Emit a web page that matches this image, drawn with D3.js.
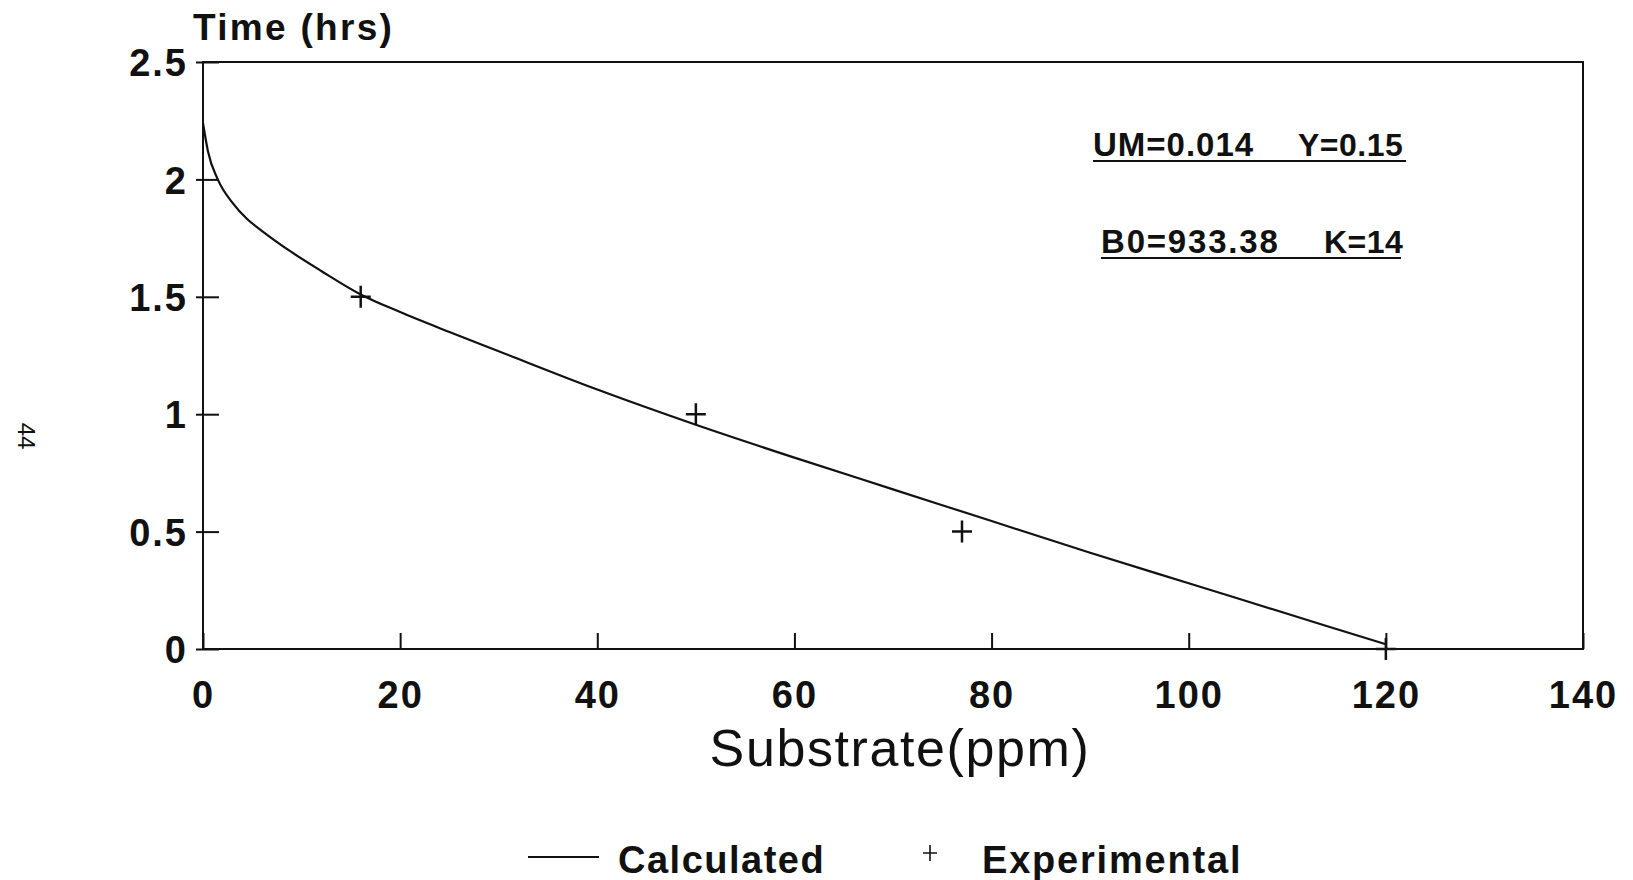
<!DOCTYPE html>
<html>
<head>
<meta charset="utf-8">
<script src="https://cdn.jsdelivr.net/npm/d3@7"></script>
<style>
  body { margin: 0; background: #fff; }
  svg { display: block; font-family: "Liberation Sans", Arial, sans-serif; }
  .axis text { font-size: 38px; font-weight: bold; letter-spacing: 2px; fill: #111; }
  .axis line { stroke: #111; stroke-width: 2; }
</style>
</head>
<body>
<svg id="chart" width="1633" height="880"></svg>
<script>
// plot area in page pixels
var width = 1633;
var height = 880;
var margin = {top: 62, right: 50, bottom: 231, left: 203};
var w = width - margin.left - margin.right;
var h = height - margin.top - margin.bottom;

// calculated curve (substrate ppm vs time hrs)
var calcX = [0, 0.5, 1.5, 3, 4.5, 6, 9, 12, 16, 20, 25, 30, 40, 50, 60, 70, 80, 90, 100, 110, 120];
var calcY = [2.24, 2.12, 2.0, 1.9, 1.83, 1.78, 1.69, 1.61, 1.51, 1.435, 1.35, 1.268, 1.105, 0.955, 0.815, 0.68, 0.545, 0.41, 0.28, 0.15, 0.02];

// experimental points
var expX = [16, 50, 77, 120];
var expY = [1.5, 1.0, 0.5, 0];

var xTicks = [0, 20, 40, 60, 80, 100, 120, 140];
var yTicks = [0, 0.5, 1, 1.5, 2, 2.5];
var xTitle = "Substrate(ppm)";
var yTitle = "Time (hrs)";
var params = [["UM=0.014", "Y=0.15"], ["B0=933.38", "K=14"]];
var legendLabels = ["Calculated", "Experimental"];

var calc = calcX.map(function(d, i) { return {s: d, t: calcY[i]}; });
var exp = expX.map(function(d, i) { return {s: d, t: expY[i]}; });

var svg = d3.select("#chart");

var x = d3.scaleLinear()
    .domain([0, 140])
    .range([0, w]);

var y = d3.scaleLinear()
    .domain([0, 2.5])
    .range([h, 0]);

var chart = svg.append("g")
    .attr("transform", "translate(" + margin.left + "," + margin.top + ")");

var xAxis = d3.axisBottom(x)
    .tickValues(xTicks)
    .tickFormat(function(d) { return String(d); })
    .tickSize(-16)
    .tickSizeOuter(0)
    .tickPadding(32);

var yAxis = d3.axisLeft(y)
    .tickValues(yTicks)
    .tickFormat(function(d) { return String(d); })
    .tickSize(-16)
    .tickSizeOuter(0)
    .tickPadding(15);

var gx = chart.append("g")
    .attr("class", "axis")
    .attr("transform", "translate(0," + h + ")")
    .call(xAxis);
gx.select(".domain").remove();

var gy = chart.append("g")
    .attr("class", "axis")
    .call(yAxis);
gy.select(".domain").remove();
gy.selectAll(".tick line").attr("x1", -7);
gy.selectAll(".tick text").attr("dy", "0.36em");

// frame
chart.append("rect")
    .attr("x", 0)
    .attr("y", 0)
    .attr("width", w)
    .attr("height", h)
    .style("fill", "none")
    .style("stroke", "#111")
    .style("stroke-width", 2);

// axis titles
svg.append("text")
    .attr("x", 193)
    .attr("y", 40)
    .style("font-size", "37px")
    .style("font-weight", "bold")
    .style("letter-spacing", "2.3px")
    .style("fill", "#111")
    .text(yTitle);

svg.append("text")
    .attr("x", 900)
    .attr("y", 766)
    .style("text-anchor", "middle")
    .style("font-size", "52px")
    .style("letter-spacing", "1.6px")
    .style("fill", "#111")
    .text(xTitle);

var line = d3.line()
    .x(function(d) { return x(d.s); })
    .y(function(d) { return y(d.t); })
    .curve(d3.curveMonotoneX);

chart.append("path")
    .datum(calc)
    .attr("d", line)
    .style("fill", "none")
    .style("stroke", "#111")
    .style("stroke-width", 2.2);

chart.selectAll(".exp")
    .data(exp)
    .enter().append("path")
    .attr("class", "exp")
    .attr("transform", function(d) { return "translate(" + x(d.s) + "," + y(d.t) + ")"; })
    .attr("d", "M-10,0H10M0,-11V11")
    .style("stroke", "#111")
    .style("stroke-width", 2.5)
    .style("fill", "none");

// model parameters box
var paramPos = [[1093, 1298, 156, 1406], [1101, 1324, 253, 1401]];
params.forEach(function(p, i) {
    var pos = paramPos[i];
    svg.append("text")
        .attr("x", pos[0]).attr("y", pos[2])
        .style("font-size", "33px").style("font-weight", "bold")
        .style("letter-spacing", i == 1 ? "1.8px" : "1px").style("fill", "#111")
        .text(p[0]);
    svg.append("text")
        .attr("x", pos[1]).attr("y", pos[2])
        .style("font-size", "32px").style("font-weight", "bold")
        .style("letter-spacing", "0.5px").style("fill", "#111")
        .text(p[1]);
    svg.append("line")
        .attr("x1", pos[0]).attr("x2", pos[3])
        .attr("y1", pos[2] + 5).attr("y2", pos[2] + 5)
        .style("stroke", "#111").style("stroke-width", 2);
});

// legend
var legend = svg.append("g");
legend.append("line")
    .attr("x1", 528).attr("x2", 599)
    .attr("y1", 857).attr("y2", 857)
    .style("stroke", "#111").style("stroke-width", 1.8);
legend.append("text")
    .attr("x", 618).attr("y", 873)
    .style("font-size", "38px").style("font-weight", "bold")
    .style("letter-spacing", "1.5px").style("fill", "#111")
    .text(legendLabels[0]);
legend.append("path")
    .attr("transform", "translate(930,853)")
    .attr("d", "M-7,0H7M0,-8V8")
    .style("stroke", "#111").style("stroke-width", 1.6);
legend.append("text")
    .attr("x", 982).attr("y", 873)
    .style("font-size", "38px").style("font-weight", "bold")
    .style("letter-spacing", "1.8px").style("fill", "#111")
    .text(legendLabels[1]);

// page number in the margin
svg.append("text")
    .attr("transform", "translate(18,436) rotate(90)")
    .style("text-anchor", "middle")
    .style("font-size", "24px")
    .style("fill", "#111")
    .text("44");
</script>
</body>
</html>
